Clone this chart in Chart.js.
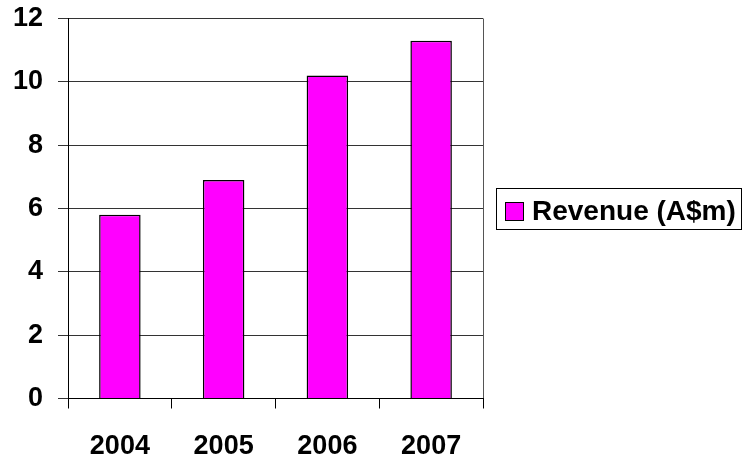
<!DOCTYPE html>
<html>
<head>
<meta charset="utf-8">
<script src="https://cdn.jsdelivr.net/npm/chart.js@4/dist/chart.umd.min.js"></script>
<style>
  html, body { margin: 0; padding: 0; background: #fff; }
  #wrap { width: 742px; height: 456px; }
</style>
</head>
<body>
<div id="wrap"><canvas id="revenueChart"></canvas></div>
<script>
var years = [ "2004", "2005", "2006", "2007" ];
var revenue = [ 5.8, 6.9, 10.2, 11.3 ];
var seriesName = "Revenue (A$m)";
var yTicks = [ 0, 2, 4, 6, 8, 10, 12 ];

var FONT = "'Liberation Sans', Arial, sans-serif";

// boxed legend on the right, like the original spreadsheet chart
var boxLegend = {
    id: 'boxLegend',
    afterDraw: function ( chart ) {
        var c = chart.ctx;
        var ds = chart.data.datasets[ 0 ];
        c.save();
        c.strokeStyle = '#000';
        c.lineWidth = 1;
        c.strokeRect( 496.5, 188.5, 245, 41 );
        c.fillStyle = ds.backgroundColor;
        c.fillRect( 505.5, 202.5, 18, 18 );
        c.strokeRect( 505.5, 202.5, 18, 18 );
        c.fillStyle = '#000';
        c.font = 'bold 28px ' + FONT;
        c.textBaseline = 'middle';
        c.textAlign = 'left';
        c.fillText( ds.label, 532, 212 );
        c.restore();
    }
};

var ctx = document.getElementById( "revenueChart" );
var myChart = new Chart( ctx, {
    type: 'bar',
    data: {
        labels: years,
        datasets: [ {
            label: seriesName,
            data: revenue,
            backgroundColor: "#ff00ff",
            borderColor: "#000000",
            borderWidth: 1.5,
            barPercentage: 0.4,
            categoryPercentage: 1.0
        } ]
    },
    options: {
        responsive: true,
        maintainAspectRatio: false,
        animation: false,
        events: [],
        layout: { padding: { top: 18.5, right: 259, left: 0, bottom: 0 } },
        plugins: {
            legend: { display: false },
            tooltip: { enabled: false }
        },
        scales: {
            x: {
                offset: true,
                grid: {
                    offset: true,
                    color: function ( c ) { return c.tick ? 'rgba(0,0,0,0)' : '#555'; },
                    tickColor: '#000',
                    tickLength: 10,
                    lineWidth: 1
                },
                border: { color: '#000', width: 1 },
                ticks: {
                    color: '#000',
                    padding: 22,
                    font: { family: FONT, size: 27, weight: 'bold' }
                },
                afterFit: function ( s ) { s.height = 57.5; s.paddingLeft = 0; s.paddingRight = 0; }
            },
            y: {
                min: 0,
                max: 12,
                afterBuildTicks: function ( s ) {
                    s.ticks = yTicks.map( function ( v ) { return { value: v }; } );
                },
                grid: {
                    color: '#333',
                    tickColor: '#333',
                    tickLength: 10,
                    lineWidth: 1
                },
                border: { color: '#000', width: 1 },
                ticks: {
                    color: '#000',
                    padding: 15,
                    font: { family: FONT, size: 27, weight: 'bold' }
                },
                afterFit: function ( s ) { s.width = 68; s.paddingTop = 0; s.paddingBottom = 0; }
            }
        }
    },
    plugins: [ boxLegend ]
} );
</script>
</body>
</html>
